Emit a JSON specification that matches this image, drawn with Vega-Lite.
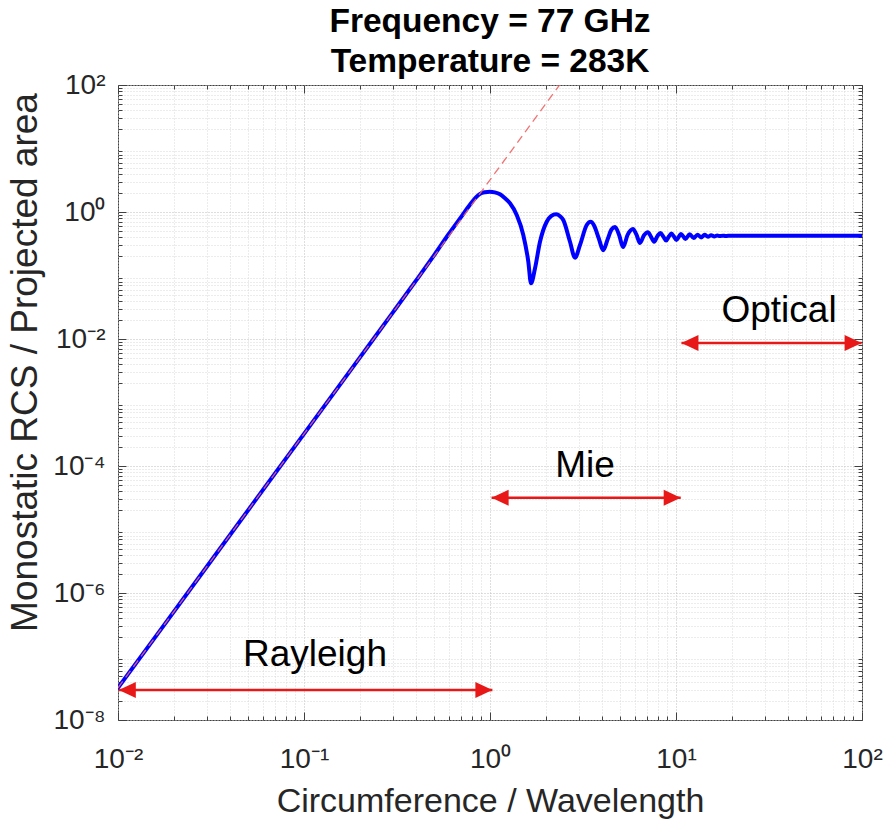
{
  "$schema": "https://vega.github.io/schema/vega-lite/v6.json",
  "width": 744,
  "height": 635,
  "autosize": {"type": "none"},
  "padding": {"left": 118, "top": 85, "right": 32, "bottom": 108},
  "background": "white",
  "config": {
    "font": "Liberation Sans",
    "view": {"stroke": "#404040", "strokeWidth": 1}
  },
  "title": {
    "text": ["Frequency = 77 GHz", "Temperature = 283K"],
    "fontSize": 33.5,
    "fontWeight": "bold",
    "color": "#000000",
    "lineHeight": 40,
    "offset": -8,
    "anchor": "middle",
    "font": "Liberation Sans"
  },
  "datasets": {
    "blue": [
      {"x": 0.01, "y": 3.2e-8},
      {"x": 0.03, "y": 2.592e-6},
      {"x": 0.1, "y": 3.2e-4},
      {"x": 0.2, "y": 0.00513},
      {"x": 0.3, "y": 0.026},
      {"x": 0.4, "y": 0.083},
      {"x": 0.5, "y": 0.207},
      {"x": 0.6, "y": 0.45},
      {"x": 0.7, "y": 0.84},
      {"x": 0.78, "y": 1.3},
      {"x": 0.84, "y": 1.7},
      {"x": 0.884, "y": 1.93},
      {"x": 0.94, "y": 2.05},
      {"x": 1.0, "y": 2.09},
      {"x": 1.06, "y": 2.04},
      {"x": 1.132, "y": 1.9},
      {"x": 1.2, "y": 1.66},
      {"x": 1.281, "y": 1.37},
      {"x": 1.392, "y": 0.897},
      {"x": 1.51, "y": 0.435},
      {"x": 1.607, "y": 0.165},
      {"x": 1.661, "y": 0.0753},
      {"x": 1.746, "y": 0.13},
      {"x": 1.857, "y": 0.34},
      {"x": 2.018, "y": 0.703},
      {"x": 2.13, "y": 0.86},
      {"x": 2.264, "y": 0.92},
      {"x": 2.38, "y": 0.86},
      {"x": 2.477, "y": 0.748},
      {"x": 2.692, "y": 0.34},
      {"x": 2.864, "y": 0.1907},
      {"x": 3.047, "y": 0.302},
      {"x": 3.311, "y": 0.624},
      {"x": 3.478, "y": 0.703},
      {"x": 3.62, "y": 0.62},
      {"x": 3.85, "y": 0.38},
      {"x": 4.06, "y": 0.25},
      {"x": 4.3, "y": 0.38},
      {"x": 4.5, "y": 0.53},
      {"x": 4.7, "y": 0.58},
      {"x": 4.95, "y": 0.43},
      {"x": 5.19, "y": 0.28},
      {"x": 5.5, "y": 0.44},
      {"x": 5.87, "y": 0.54},
      {"x": 6.13, "y": 0.44},
      {"x": 6.4, "y": 0.325},
      {"x": 6.73, "y": 0.43},
      {"x": 7.06, "y": 0.48},
      {"x": 7.33, "y": 0.41},
      {"x": 7.62, "y": 0.34},
      {"x": 7.95, "y": 0.42},
      {"x": 8.25, "y": 0.468},
      {"x": 8.55, "y": 0.41},
      {"x": 8.85, "y": 0.355},
      {"x": 9.15, "y": 0.41},
      {"x": 9.45, "y": 0.457},
      {"x": 9.75, "y": 0.41},
      {"x": 10.05, "y": 0.363},
      {"x": 10.65, "y": 0.452},
      {"x": 11.25, "y": 0.376},
      {"x": 11.85, "y": 0.447},
      {"x": 12.45, "y": 0.389},
      {"x": 13.05, "y": 0.44},
      {"x": 13.65, "y": 0.398},
      {"x": 14.25, "y": 0.437},
      {"x": 14.85, "y": 0.407},
      {"x": 15.45, "y": 0.431},
      {"x": 16.05, "y": 0.412},
      {"x": 16.65, "y": 0.427},
      {"x": 17.25, "y": 0.417},
      {"x": 17.85, "y": 0.424},
      {"x": 18.45, "y": 0.419},
      {"x": 19.05, "y": 0.422},
      {"x": 20, "y": 0.421},
      {"x": 30, "y": 0.421},
      {"x": 50, "y": 0.421},
      {"x": 100, "y": 0.421}
    ],
    "rayleigh": [
      {"x": 0.01, "y": 3.2e-8},
      {"x": 2.3644, "y": 100}
    ],
    "arrows": [
      {"region": "Rayleigh", "x": 0.0101, "x2": 1.03, "y": 2.96e-8},
      {"region": "Mie", "x": 1.02, "x2": 10.6, "y": 3.16e-5},
      {"region": "Optical", "x": 10.7, "x2": 99.5, "y": 0.00865}
    ],
    "labels": [
      {"text": "Rayleigh", "x": 0.1146, "y": 7.08e-8},
      {"text": "Mie", "x": 3.24, "y": 6.78e-5},
      {"text": "Optical", "x": 35.8, "y": 0.01854}
    ]
  },
  "layer": [
    {
      "data": {"name": "blue"},
      "mark": {"type": "line", "color": "#0000ff", "strokeWidth": 4, "interpolate": "monotone", "strokeCap": "round", "strokeJoin": "round", "clip": true},
      "encoding": {
        "x": {
          "field": "x", "type": "quantitative",
          "scale": {"type": "log", "domain": [0.01, 100], "nice": false},
          "axis": {
            "orient": "bottom",
            "values": [0.01, 0.1, 1, 10, 100],
            "labelExpr": "'10' + ['⁻⁸','⁻⁷','⁻⁶','⁻⁵','⁻⁴','⁻³','⁻²','⁻¹','⁰','¹','²'][round(log(datum.value)/LN10)+8]",
            "labelFontSize": 28,
            "labelColor": "#262626",
            "labelPadding": 33,
            "labelFlush": false,
            "labelOverlap": false,
            "labelBaseline": "top",
            "ticks": true,
            "tickSize": -8,
            "tickColor": "#404040",
            "domain": false,
            "grid": true,
            "gridColor": "#bdbdbd",
            "gridDash": [1, 2],
            "title": "Circumference / Wavelength",
            "titleFontSize": 34,
            "titleFontWeight": "normal",
            "titleColor": "#262626",
            "titleY": 91,
            "titleBaseline": "alphabetic"
          }
        },
        "y": {
          "field": "y", "type": "quantitative",
          "scale": {"type": "log", "domain": [1e-8, 100], "nice": false},
          "axis": {
            "orient": "left",
            "values": [1e-8, 1e-6, 0.0001, 0.01, 1, 100],
            "labelExpr": "'10' + ['⁻⁸','⁻⁷','⁻⁶','⁻⁵','⁻⁴','⁻³','⁻²','⁻¹','⁰','¹','²'][round(log(datum.value)/LN10)+8]",
            "labelFontSize": 28,
            "labelColor": "#262626",
            "labelPadding": 21,
            "labelFlush": false,
            "labelOverlap": false,
            "ticks": true,
            "tickSize": -8,
            "tickColor": "#404040",
            "domain": false,
            "grid": true,
            "gridColor": "#bdbdbd",
            "gridDash": [1, 2],
            "title": "Monostatic RCS / Projected area",
            "titleFontSize": 37,
            "titleFontWeight": "normal",
            "titleColor": "#262626",
            "titleAngle": -90,
            "titleX": -82,
            "titleY": 277,
            "titleAlign": "center",
            "titleBaseline": "alphabetic"
          }
        }
      }
    },
    {
      "data": {"name": "rayleigh"},
      "mark": {"type": "line", "color": "#ee6464", "strokeWidth": 1.3, "strokeDash": [8, 5], "opacity": 0.9, "clip": true},
      "encoding": {
        "x": {
          "field": "x", "type": "quantitative",
          "scale": {"type": "log", "domain": [0.01, 100], "nice": false},
          "axis": {
            "orient": "bottom",
            "values": [0.02,0.03,0.04,0.05,0.06,0.07,0.08,0.09,0.2,0.3,0.4,0.5,0.6,0.7,0.8,0.9,2,3,4,5,6,7,8,9,20,30,40,50,60,70,80,90],
            "labels": false,
            "ticks": true,
            "tickSize": -4,
            "tickColor": "#404040",
            "domain": false,
            "grid": true,
            "gridColor": "#d9d9d9",
            "gridDash": [1, 2],
            "title": null
          }
        },
        "y": {
          "field": "y", "type": "quantitative",
          "scale": {"type": "log", "domain": [1e-8, 100], "nice": false},
          "axis": {
            "orient": "left",
            "values": [2e-8,3e-8,4e-8,5e-8,6e-8,7e-8,8e-8,9e-8,2e-7,3e-7,4e-7,5e-7,6e-7,7e-7,8e-7,9e-7,2e-6,3e-6,4e-6,5e-6,6e-6,7e-6,8e-6,9e-6,2e-5,3e-5,4e-5,5e-5,6e-5,7e-5,8e-5,9e-5,0.0002,0.0003,0.0004,0.0005,0.0006,0.0007,0.0008,0.0009,0.002,0.003,0.004,0.005,0.006,0.007,0.008,0.009,0.02,0.03,0.04,0.05,0.06,0.07,0.08,0.09,0.2,0.3,0.4,0.5,0.6,0.7,0.8,0.9,2,3,4,5,6,7,8,9,20,30,40,50,60,70,80,90],
            "labels": false,
            "ticks": true,
            "tickSize": -4,
            "tickColor": "#404040",
            "domain": false,
            "grid": true,
            "gridColor": "#d9d9d9",
            "gridDash": [1, 2],
            "title": null
          }
        }
      }
    },
    {
      "data": {"name": "arrows"},
      "mark": {"type": "rule", "color": "#e81818", "strokeWidth": 2.5},
      "encoding": {
        "x": {
          "field": "x", "type": "quantitative",
          "scale": {"type": "log", "domain": [0.01, 100], "nice": false},
          "axis": {"orient": "top", "values": [0.01, 0.1, 1, 10, 100], "labels": false, "ticks": true, "tickSize": -8, "tickColor": "#404040", "domain": false, "grid": false, "title": null}
        },
        "x2": {"field": "x2"},
        "y": {
          "field": "y", "type": "quantitative",
          "scale": {"type": "log", "domain": [1e-8, 100], "nice": false},
          "axis": {"orient": "right", "values": [1e-8, 1e-6, 0.0001, 0.01, 1, 100], "labels": false, "ticks": true, "tickSize": -8, "tickColor": "#404040", "domain": false, "grid": false, "title": null}
        }
      }
    },
    {
      "data": {"name": "arrows"},
      "transform": [{"fold": ["x", "x2"], "as": ["end", "xpos"]}],
      "mark": {"type": "point", "filled": true, "size": 100, "color": "#e81818", "opacity": 1, "strokeWidth": 0},
      "encoding": {
        "x": {
          "field": "xpos", "type": "quantitative",
          "scale": {"type": "log", "domain": [0.01, 100], "nice": false},
          "axis": {
            "orient": "top",
            "values": [0.02,0.03,0.04,0.05,0.06,0.07,0.08,0.09,0.2,0.3,0.4,0.5,0.6,0.7,0.8,0.9,2,3,4,5,6,7,8,9,20,30,40,50,60,70,80,90],
            "labels": false, "ticks": true, "tickSize": -4, "tickColor": "#404040", "domain": false, "grid": false, "title": null
          }
        },
        "y": {
          "field": "y", "type": "quantitative",
          "scale": {"type": "log", "domain": [1e-8, 100], "nice": false},
          "axis": {
            "orient": "right",
            "values": [2e-8,3e-8,4e-8,5e-8,6e-8,7e-8,8e-8,9e-8,2e-7,3e-7,4e-7,5e-7,6e-7,7e-7,8e-7,9e-7,2e-6,3e-6,4e-6,5e-6,6e-6,7e-6,8e-6,9e-6,2e-5,3e-5,4e-5,5e-5,6e-5,7e-5,8e-5,9e-5,0.0002,0.0003,0.0004,0.0005,0.0006,0.0007,0.0008,0.0009,0.002,0.003,0.004,0.005,0.006,0.007,0.008,0.009,0.02,0.03,0.04,0.05,0.06,0.07,0.08,0.09,0.2,0.3,0.4,0.5,0.6,0.7,0.8,0.9,2,3,4,5,6,7,8,9,20,30,40,50,60,70,80,90],
            "labels": false, "ticks": true, "tickSize": -4, "tickColor": "#404040", "domain": false, "grid": false, "title": null
          }
        },
        "shape": {
          "field": "end", "type": "nominal",
          "scale": {"domain": ["x", "x2"], "range": ["M0,0L3.4,-1.6L3.4,1.6Z", "M0,0L-3.4,-1.6L-3.4,1.6Z"]},
          "legend": null
        }
      }
    },
    {
      "data": {"name": "labels"},
      "mark": {"type": "text", "fontSize": 37, "color": "#000000", "align": "center", "baseline": "alphabetic", "font": "Liberation Sans"},
      "encoding": {
        "x": {"field": "x", "type": "quantitative", "scale": {"type": "log", "domain": [0.01, 100], "nice": false}, "axis": null},
        "y": {"field": "y", "type": "quantitative", "scale": {"type": "log", "domain": [1e-8, 100], "nice": false}, "axis": null},
        "text": {"field": "text"}
      }
    }
  ],
  "resolve": {"axis": {"x": "independent", "y": "independent"}}
}
